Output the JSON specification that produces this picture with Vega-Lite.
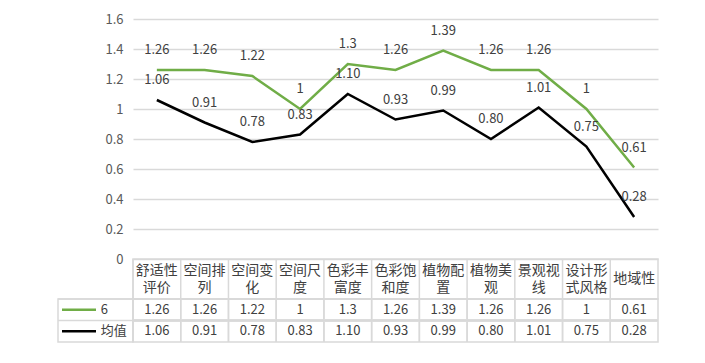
{
  "$schema": "https://vega.github.io/schema/vega-lite/v6.json",
  "background": "#ffffff",
  "padding": {"left": 56, "top": 13, "right": 5, "bottom": 5},
  "spacing": 0,
  "columns": 2,
  "bounds": "flush",
  "config": {
    "view": {"stroke": null},
    "font": "Noto Sans CJK SC",
    "text": {"font": "Noto Sans CJK SC"},
    "axis": {"labelFont": "Noto Sans CJK SC"}
  },
  "datasets": {
    "d": [
      {"cat": "舒适性评价", "label": "舒适性\n评价", "series": "6", "value": 1.26},
      {"cat": "空间排列", "label": "空间排\n列", "series": "6", "value": 1.26},
      {"cat": "空间变化", "label": "空间变\n化", "series": "6", "value": 1.22},
      {"cat": "空间尺度", "label": "空间尺\n度", "series": "6", "value": 1},
      {"cat": "色彩丰富度", "label": "色彩丰\n富度", "series": "6", "value": 1.3},
      {"cat": "色彩饱和度", "label": "色彩饱\n和度", "series": "6", "value": 1.26},
      {"cat": "植物配置", "label": "植物配\n置", "series": "6", "value": 1.39},
      {"cat": "植物美观", "label": "植物美\n观", "series": "6", "value": 1.26},
      {"cat": "景观视线", "label": "景观视\n线", "series": "6", "value": 1.26},
      {"cat": "设计形式风格", "label": "设计形\n式风格", "series": "6", "value": 1},
      {"cat": "地域性", "label": "地域性", "series": "6", "value": 0.61},
      {"cat": "舒适性评价", "label": "舒适性\n评价", "series": "均值", "value": 1.06},
      {"cat": "空间排列", "label": "空间排\n列", "series": "均值", "value": 0.91},
      {"cat": "空间变化", "label": "空间变\n化", "series": "均值", "value": 0.78},
      {"cat": "空间尺度", "label": "空间尺\n度", "series": "均值", "value": 0.83},
      {"cat": "色彩丰富度", "label": "色彩丰\n富度", "series": "均值", "value": 1.10},
      {"cat": "色彩饱和度", "label": "色彩饱\n和度", "series": "均值", "value": 0.93},
      {"cat": "植物配置", "label": "植物配\n置", "series": "均值", "value": 0.99},
      {"cat": "植物美观", "label": "植物美\n观", "series": "均值", "value": 0.80},
      {"cat": "景观视线", "label": "景观视\n线", "series": "均值", "value": 1.01},
      {"cat": "设计形式风格", "label": "设计形\n式风格", "series": "均值", "value": 0.75},
      {"cat": "地域性", "label": "地域性", "series": "均值", "value": 0.28}
    ],
    "s": [{"series": "6"}, {"series": "均值"}],
    "blank": [{"t": ""}]
  },
  "concat": [
    {
      "width": 75,
      "height": 240,
      "data": {"name": "blank"},
      "mark": {"type": "text"},
      "encoding": {"text": {"field": "t"}}
    },
    {
      "width": 525,
      "height": 240,
      "data": {"name": "d"},
      "encoding": {
        "x": {"field": "cat", "type": "nominal", "sort": null, "scale": {"type": "point", "padding": 0.5}, "axis": null},
        "y": {
          "field": "value", "type": "quantitative",
          "scale": {"domain": [0, 1.6], "nice": false, "zero": true},
          "axis": {
            "values": [0, 0.2, 0.4, 0.6, 0.8, 1, 1.2, 1.4, 1.6],
            "format": "~g", "title": null, "domain": false, "ticks": false,
            "labelPadding": 10, "labelColor": "#595959", "labelFontSize": 13,
            "gridColor": "#d9d9d9", "gridWidth": 1.5
          }
        }
      },
      "layer": [
        {
          "mark": {"type": "line", "strokeWidth": 2.5},
          "encoding": {
            "color": {"field": "series", "type": "nominal", "scale": {"domain": ["6", "均值"], "range": ["#70ad47", "#000000"]}, "legend": null}
          }
        },
        {
          "transform": [{"filter": "datum.series === '6'"}],
          "mark": {"type": "text", "dy": -20, "fontSize": 13, "color": "#404040"},
          "encoding": {"text": {"field": "value", "type": "quantitative", "format": "~g"}}
        },
        {
          "transform": [{"filter": "datum.series === '均值'"}],
          "mark": {"type": "text", "dy": -20, "fontSize": 13, "color": "#404040"},
          "encoding": {"text": {"field": "value", "type": "quantitative", "format": ".2f"}}
        }
      ]
    },
    {
      "width": 75,
      "height": 40,
      "data": {"name": "blank"},
      "mark": {"type": "text"},
      "encoding": {"text": {"field": "t"}}
    },
    {
      "width": 525,
      "height": 40,
      "data": {"name": "d"},
      "transform": [{"filter": "datum.series === '6'"}],
      "view": {"stroke": "#d9d9d9", "strokeWidth": 1.5},
      "encoding": {
        "x": {"field": "cat", "type": "nominal", "sort": null, "scale": {"type": "band", "paddingInner": 0, "paddingOuter": 0}, "axis": null}
      },
      "layer": [
        {
          "mark": {"type": "rule", "color": "#d9d9d9", "strokeWidth": 1.5},
          "encoding": {
            "x": {"field": "cat", "type": "nominal", "sort": null, "bandPosition": 0, "scale": {"type": "band", "paddingInner": 0, "paddingOuter": 0}, "axis": null}
          }
        },
        {
          "transform": [{"filter": "indexof(datum.label, '\\n') >= 0"}],
          "mark": {"type": "text", "lineBreak": "\n", "fontSize": 14, "lineHeight": 17, "dy": -8.5, "color": "#404040"},
          "encoding": {"text": {"field": "label"}}
        },
        {
          "transform": [{"filter": "indexof(datum.label, '\\n') < 0"}],
          "mark": {"type": "text", "fontSize": 14, "color": "#404040"},
          "encoding": {"text": {"field": "label"}}
        }
      ]
    },
    {
      "width": 75,
      "height": 43,
      "data": {"name": "s"},
      "view": {"stroke": "#d9d9d9", "strokeWidth": 1.5},
      "layer": [
        {
          "mark": {"type": "rule", "color": "#d9d9d9", "strokeWidth": 1.5},
          "encoding": {
            "y": {"field": "series", "type": "nominal", "bandPosition": 0, "scale": {"type": "band", "domain": ["6", "均值"], "paddingInner": 0, "paddingOuter": 0}, "axis": null}
          }
        },
        {
          "mark": {"type": "point", "shape": "stroke", "size": 1156, "strokeWidth": 2.5, "filled": false, "opacity": 1},
          "encoding": {
            "x": {"datum": 0.28, "type": "quantitative", "scale": {"domain": [0, 1]}, "axis": null},
            "y": {"field": "series", "type": "nominal", "scale": {"type": "band", "domain": ["6", "均值"], "paddingInner": 0, "paddingOuter": 0}, "axis": null},
            "color": {"field": "series", "type": "nominal", "scale": {"domain": ["6", "均值"], "range": ["#70ad47", "#000000"]}, "legend": null}
          }
        },
        {
          "mark": {"type": "text", "align": "left", "fontSize": 13, "color": "#404040"},
          "encoding": {
            "x": {"datum": 0.57, "type": "quantitative", "scale": {"domain": [0, 1]}, "axis": null},
            "y": {"field": "series", "type": "nominal", "scale": {"type": "band", "domain": ["6", "均值"], "paddingInner": 0, "paddingOuter": 0}, "axis": null},
            "text": {"field": "series"}
          }
        }
      ]
    },
    {
      "width": 525,
      "height": 43,
      "data": {"name": "d"},
      "view": {"stroke": "#d9d9d9", "strokeWidth": 1.5},
      "layer": [
        {
          "mark": {"type": "rule", "color": "#d9d9d9", "strokeWidth": 1.5},
          "encoding": {
            "x": {"field": "cat", "type": "nominal", "sort": null, "bandPosition": 0, "scale": {"type": "band", "paddingInner": 0, "paddingOuter": 0}, "axis": null}
          }
        },
        {
          "mark": {"type": "rule", "color": "#d9d9d9", "strokeWidth": 1.5},
          "encoding": {
            "y": {"field": "series", "type": "nominal", "bandPosition": 0, "scale": {"type": "band", "domain": ["6", "均值"], "paddingInner": 0, "paddingOuter": 0}, "axis": null}
          }
        },
        {
          "transform": [{"filter": "datum.series === '6'"}],
          "mark": {"type": "text", "fontSize": 13, "color": "#404040"},
          "encoding": {
            "x": {"field": "cat", "type": "nominal", "sort": null, "scale": {"type": "band", "paddingInner": 0, "paddingOuter": 0}, "axis": null},
            "y": {"field": "series", "type": "nominal", "scale": {"type": "band", "domain": ["6", "均值"], "paddingInner": 0, "paddingOuter": 0}, "axis": null},
            "text": {"field": "value", "type": "quantitative", "format": "~g"}
          }
        },
        {
          "transform": [{"filter": "datum.series === '均值'"}],
          "mark": {"type": "text", "fontSize": 13, "color": "#404040"},
          "encoding": {
            "x": {"field": "cat", "type": "nominal", "sort": null, "scale": {"type": "band", "paddingInner": 0, "paddingOuter": 0}, "axis": null},
            "y": {"field": "series", "type": "nominal", "scale": {"type": "band", "domain": ["6", "均值"], "paddingInner": 0, "paddingOuter": 0}, "axis": null},
            "text": {"field": "value", "type": "quantitative", "format": ".2f"}
          }
        }
      ]
    }
  ]
}
